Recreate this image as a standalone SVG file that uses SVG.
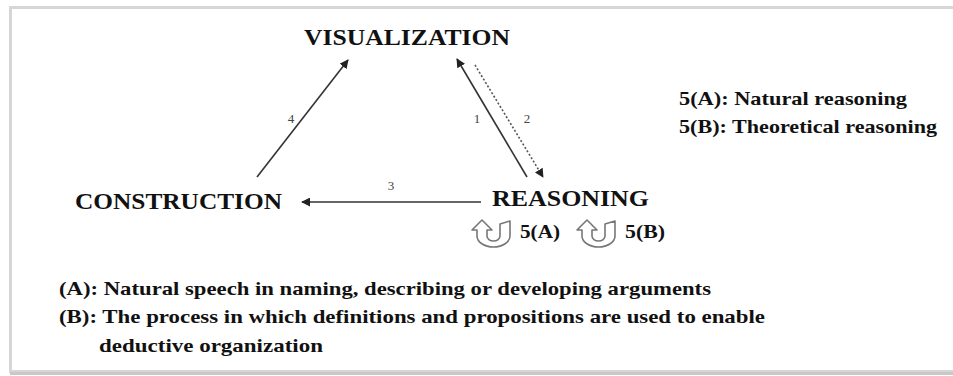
<svg xmlns="http://www.w3.org/2000/svg" width="953" height="376" viewBox="0 0 953 376">
<style>
.node{font-family:"Liberation Serif","DejaVu Serif",serif;font-weight:bold;font-size:24px;fill:#111}
.leg{font-family:"Liberation Serif","DejaVu Serif",serif;font-weight:bold;font-size:19px;fill:#111}
.num{font-family:"Liberation Serif","DejaVu Serif",serif;font-size:13px;fill:#444}
.edge{stroke:#333;stroke-width:1.6;fill:none}
.dot{stroke:#555;stroke-width:1.6;fill:none;stroke-dasharray:2 2}
.uturn{fill:#fff;stroke:#777;stroke-width:1.6;stroke-linejoin:round}
</style>
<defs>
<marker id="ah" viewBox="0 0 10 10" refX="9" refY="5" markerWidth="9" markerHeight="9" markerUnits="userSpaceOnUse" orient="auto">
<path d="M0,0 L10,5 L0,10 z" fill="#222"/>
</marker>
<path id="ut" d="M10,0 L20,10 L15,10 L15,16 A6.5,5 0 0 0 28,16 L28,4 L38,1 L38,16 A16.5,11 0 0 1 5,16 L5,10 L0,10 Z"/>
</defs>
<rect x="0" y="0" width="953" height="376" fill="#fff"/>
<rect x="10.5" y="7.5" width="960" height="364" fill="none" stroke="#d6d6d6" stroke-width="3"/>
<line x1="10" y1="373.5" x2="953" y2="373.5" stroke="#c8c8c8" stroke-width="3"/>

<g id="connectors">
<line class="edge" x1="481" y1="202" x2="302" y2="202" marker-end="url(#ah)"/>
<line class="edge" x1="257" y1="177" x2="348" y2="60" marker-end="url(#ah)"/>
<line class="edge" x1="527" y1="177" x2="457" y2="59" marker-end="url(#ah)"/>
<line class="dot" x1="475" y1="65" x2="543" y2="177" marker-end="url(#ah)"/>
<text class="num" x="477" y="123" text-anchor="middle">1</text>
<text class="num" x="527" y="123" text-anchor="middle">2</text>
<text class="num" x="391" y="190" text-anchor="middle">3</text>
<text class="num" x="291" y="123" text-anchor="middle">4</text>
</g>

<g id="visualization"><text class="node" x="304" y="45" textLength="206" lengthAdjust="spacingAndGlyphs">VISUALIZATION</text></g>
<g id="construction"><text class="node" x="75" y="209" textLength="207" lengthAdjust="spacingAndGlyphs">CONSTRUCTION</text></g>
<g id="reasoning"><text class="node" x="492" y="206" textLength="157" lengthAdjust="spacingAndGlyphs">REASONING</text></g>

<g id="loopA">
<use href="#ut" class="uturn" x="472" y="220"/>
<text class="leg" x="520" y="238" font-size="17" textLength="40" lengthAdjust="spacingAndGlyphs">5(A)</text>
</g>
<g id="loopB">
<use href="#ut" class="uturn" x="577" y="220"/>
<text class="leg" x="625" y="238" font-size="17" textLength="40" lengthAdjust="spacingAndGlyphs">5(B)</text>
</g>

<g id="legend">
<text class="leg" x="679" y="105" textLength="228" lengthAdjust="spacingAndGlyphs">5(A): Natural reasoning</text>
<text class="leg" x="679" y="133" textLength="258" lengthAdjust="spacingAndGlyphs">5(B): Theoretical reasoning</text>
</g>

<g id="notes">
<text class="leg" x="59" y="295" textLength="652" lengthAdjust="spacingAndGlyphs">(A): Natural speech in naming, describing or developing arguments</text>
<text class="leg" x="59" y="323" textLength="706" lengthAdjust="spacingAndGlyphs">(B): The process in which definitions and propositions are used to enable</text>
<text class="leg" x="99" y="352" textLength="224" lengthAdjust="spacingAndGlyphs">deductive organization</text>
</g>
</svg>
